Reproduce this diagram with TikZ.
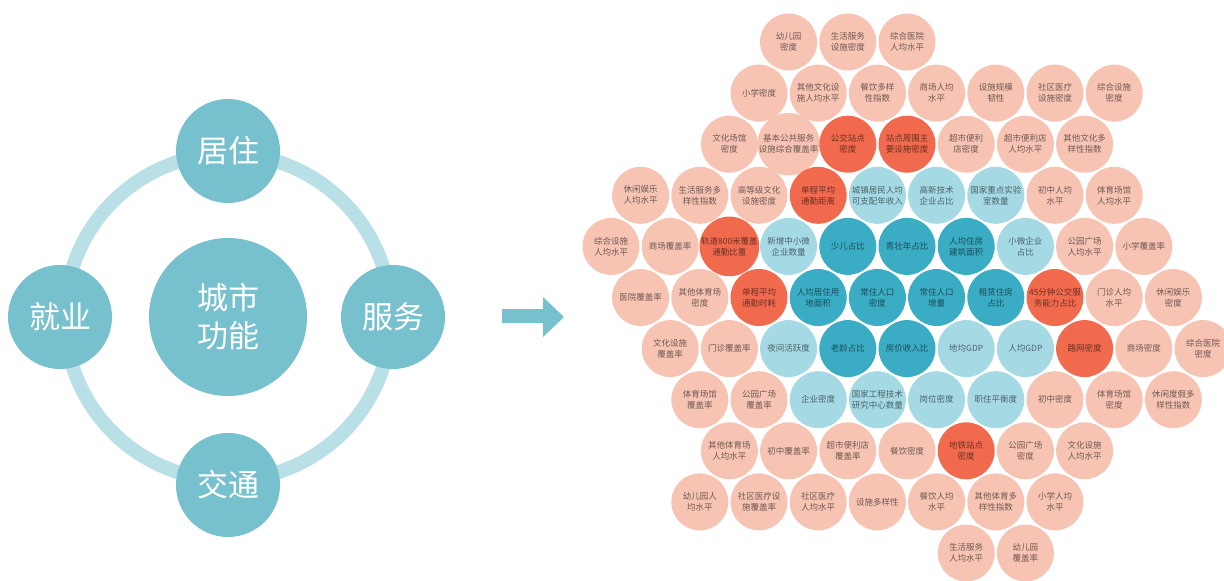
\documentclass[tikz,border=0pt]{standalone}
\usepackage{fontspec}
\newfontfamily\cjk{Noto Sans CJK SC}
\definecolor{peach}{HTML}{F7C4B4}
\definecolor{redc}{HTML}{F26A4E}
\definecolor{lblue}{HTML}{A5DAE5}
\definecolor{dteal}{HTML}{3AACC4}
\definecolor{teal1}{HTML}{76C1CD}
\definecolor{ringc}{HTML}{B9E0E6}
\newcommand\hexc[4]{\node[#3] (h#1-#2) at ({611+29.6*#2},{42+51.1*(#1-1)}) {#4};}
\begin{document}
\begin{tikzpicture}[x=1pt,y=-1pt,
  hx/.style={circle,minimum size=57pt,inner sep=0pt,align=center,
    font=\cjk\fontsize{8.5}{11}\selectfont,text=black,text opacity=0.55},
  pe/.style={hx,fill=peach},
  rd/.style={hx,fill=redc},
  lb/.style={hx,fill=lblue},
  dk/.style={hx,fill=dteal},
  fn/.style={circle,fill=teal1,text=white,inner sep=0pt,align=center,
    font=\cjk\fontsize{31}{38}\selectfont},
  ringline/.style={draw=ringc,line width=14pt},
  arrowshape/.style={fill=teal1}]
\useasboundingbox (0,0) rectangle (1224,581);
% left diagram
\coordinate (ctr) at (228,317);
\draw[ringline] (ctr) circle (163);
\node[fn,minimum size=158pt] (city) at (ctr) {城市\\功能};
\node[fn,minimum size=104pt] (juzhu) at (228,151) {居住};
\node[fn,minimum size=104pt] (fuwu) at (393,317) {服务};
\node[fn,minimum size=104pt] (jiaotong) at (228,485) {交通};
\node[fn,minimum size=104pt] (jiuye) at (60,317) {就业};
% arrow
\fill[arrowshape] (502,309) -- (543,309) -- (543,297) -- (564,317) -- (543,337) -- (543,323) -- (502,323) -- cycle;
% row 1
\hexc{1}{6}{pe}{幼儿园\\密度}
\hexc{1}{8}{pe}{生活服务\\设施密度}
\hexc{1}{10}{pe}{综合医院\\人均水平}
% row 2
\hexc{2}{5}{pe}{小学密度}
\hexc{2}{7}{pe}{其他文化设\\施人均水平}
\hexc{2}{9}{pe}{餐饮多样\\性指数}
\hexc{2}{11}{pe}{商场人均\\水平}
\hexc{2}{13}{pe}{设施规模\\韧性}
\hexc{2}{15}{pe}{社区医疗\\设施密度}
\hexc{2}{17}{pe}{综合设施\\密度}
% row 3
\hexc{3}{4}{pe}{文化场馆\\密度}
\hexc{3}{6}{pe}{基本公共服务\\设施综合覆盖率}
\hexc{3}{8}{rd}{公交站点\\密度}
\hexc{3}{10}{rd}{站点周围主\\要设施密度}
\hexc{3}{12}{pe}{超市便利\\店密度}
\hexc{3}{14}{pe}{超市便利店\\人均水平}
\hexc{3}{16}{pe}{其他文化多\\样性指数}
% row 4
\hexc{4}{1}{pe}{休闲娱乐\\人均水平}
\hexc{4}{3}{pe}{生活服务多\\样性指数}
\hexc{4}{5}{pe}{高等级文化\\设施密度}
\hexc{4}{7}{rd}{单程平均\\通勤距离}
\hexc{4}{9}{lb}{城镇居民人均\\可支配年收入}
\hexc{4}{11}{lb}{高新技术\\企业占比}
\hexc{4}{13}{lb}{国家重点实验\\室数量}
\hexc{4}{15}{pe}{初中人均\\水平}
\hexc{4}{17}{pe}{体育场馆\\人均水平}
% row 5
\hexc{5}{0}{pe}{综合设施\\人均水平}
\hexc{5}{2}{pe}{商场覆盖率}
\hexc{5}{4}{rd}{轨道800米覆盖\\通勤比重}
\hexc{5}{6}{lb}{新增中小微\\企业数量}
\hexc{5}{8}{dk}{少儿占比}
\hexc{5}{10}{dk}{青壮年占比}
\hexc{5}{12}{dk}{人均住房\\建筑面积}
\hexc{5}{14}{lb}{小微企业\\占比}
\hexc{5}{16}{pe}{公园广场\\人均水平}
\hexc{5}{18}{pe}{小学覆盖率}
% row 6
\hexc{6}{1}{pe}{医院覆盖率}
\hexc{6}{3}{pe}{其他体育场\\密度}
\hexc{6}{5}{rd}{单程平均\\通勤时耗}
\hexc{6}{7}{dk}{人均居住用\\地面积}
\hexc{6}{9}{dk}{常住人口\\密度}
\hexc{6}{11}{dk}{常住人口\\增量}
\hexc{6}{13}{dk}{租赁住房\\占比}
\hexc{6}{15}{rd}{45分钟公交服\\务能力占比}
\hexc{6}{17}{pe}{门诊人均\\水平}
\hexc{6}{19}{pe}{休闲娱乐\\密度}
% row 7
\hexc{7}{2}{pe}{文化设施\\覆盖率}
\hexc{7}{4}{pe}{门诊覆盖率}
\hexc{7}{6}{lb}{夜间活跃度}
\hexc{7}{8}{dk}{老龄占比}
\hexc{7}{10}{dk}{房价收入比}
\hexc{7}{12}{lb}{地均GDP}
\hexc{7}{14}{lb}{人均GDP}
\hexc{7}{16}{rd}{路网密度}
\hexc{7}{18}{pe}{商场密度}
\hexc{7}{20}{pe}{综合医院\\密度}
% row 8
\hexc{8}{3}{pe}{体育场馆\\覆盖率}
\hexc{8}{5}{pe}{公园广场\\覆盖率}
\hexc{8}{7}{lb}{企业密度}
\hexc{8}{9}{lb}{国家工程技术\\研究中心数量}
\hexc{8}{11}{lb}{岗位密度}
\hexc{8}{13}{lb}{职住平衡度}
\hexc{8}{15}{pe}{初中密度}
\hexc{8}{17}{pe}{体育场馆\\密度}
\hexc{8}{19}{pe}{休闲度假多\\样性指数}
% row 9
\hexc{9}{4}{pe}{其他体育场\\人均水平}
\hexc{9}{6}{pe}{初中覆盖率}
\hexc{9}{8}{pe}{超市便利店\\覆盖率}
\hexc{9}{10}{pe}{餐饮密度}
\hexc{9}{12}{rd}{地铁站点\\密度}
\hexc{9}{14}{pe}{公园广场\\密度}
\hexc{9}{16}{pe}{文化设施\\人均水平}
% row 10
\hexc{10}{3}{pe}{幼儿园人\\均水平}
\hexc{10}{5}{pe}{社区医疗设\\施覆盖率}
\hexc{10}{7}{pe}{社区医疗\\人均水平}
\hexc{10}{9}{pe}{设施多样性}
\hexc{10}{11}{pe}{餐饮人均\\水平}
\hexc{10}{13}{pe}{其他体育多\\样性指数}
\hexc{10}{15}{pe}{小学人均\\水平}
% row 11
\hexc{11}{12}{pe}{生活服务\\人均水平}
\hexc{11}{14}{pe}{幼儿园\\覆盖率}
\end{tikzpicture}
\end{document}
